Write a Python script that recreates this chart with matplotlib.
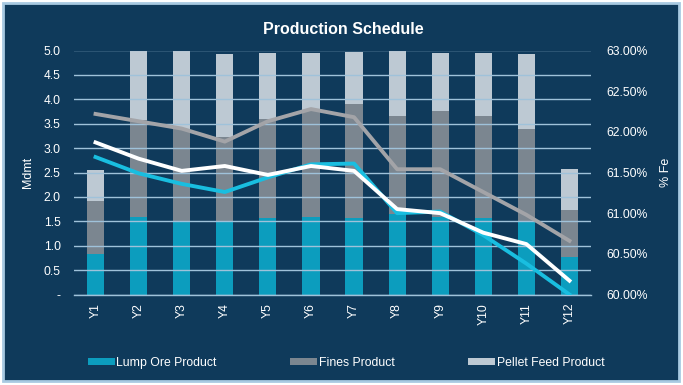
import matplotlib
matplotlib.use("Agg")
import matplotlib.pyplot as plt
from matplotlib.patches import Rectangle, Patch
from matplotlib.ticker import FuncFormatter, MultipleLocator
import numpy as np

plt.rcParams['font.family'] = ['Liberation Sans', 'DejaVu Sans']

years = ["Y1", "Y2", "Y3", "Y4", "Y5", "Y6", "Y7", "Y8", "Y9", "Y10", "Y11", "Y12"]
lump = [0.82, 1.58, 1.50, 1.48, 1.56, 1.59, 1.56, 1.65, 1.59, 1.56, 1.49, 0.76]
fines = [1.09, 1.99, 1.90, 1.75, 2.04, 2.18, 2.34, 2.01, 2.16, 2.10, 1.91, 0.97]
pellet = [0.65, 1.43, 1.60, 1.70, 1.35, 1.18, 1.07, 1.33, 1.20, 1.29, 1.53, 0.85]

fe_fines = [62.22, 62.13, 62.04, 61.88, 62.13, 62.28, 62.18, 61.54, 61.54, 61.26, 60.98, 60.66]
fe_total = [61.87, 61.67, 61.52, 61.58, 61.47, 61.58, 61.52, 61.05, 61.00, 60.76, 60.62, 60.17]
fe_lump = [61.69, 61.49, 61.36, 61.26, 61.44, 61.60, 61.61, 61.00, 61.02, 60.73, 60.38, 60.00]

BG = "#0F3A5B"
C_LUMP = "#0C9DBE"
C_FINES = "#7B8690"
C_PELLET = "#BDC9D3"
GRID = "#9FC2DA"

W, H = 683, 385
fig = plt.figure(figsize=(W / 100, H / 100), dpi=100)
fig.patch.set_facecolor("white")
fig.patches.append(Rectangle((3 / W, 4 / H), 676 / W, 378 / H, transform=fig.transFigure,
                             facecolor=BG, edgecolor="#A8CAE2", linewidth=2, zorder=-10))

ax = fig.add_axes([74 / W, 1 - 294.5 / H, 517 / W, 244 / H])
ax.set_facecolor("none")
x = np.arange(len(years))
bw = 0.40
lump_a = np.array(lump)
fines_a = np.array(fines)
pellet_a = np.array(pellet)
ax.bar(x, lump_a, bw, color=C_LUMP, zorder=1)
ax.bar(x, fines_a, bw, bottom=lump_a, color=C_FINES, zorder=1)
ax.bar(x, pellet_a, bw, bottom=lump_a + fines_a, color=C_PELLET, zorder=1)

ax.set_ylim(0, 5.0)
ax.set_xlim(-0.5, len(years) - 0.5)
ax.yaxis.set_major_locator(MultipleLocator(0.5))
ax.yaxis.set_major_formatter(FuncFormatter(lambda v, p: "-" if abs(v) < 1e-9 else f"{v:.1f}"))
ax.set_axisbelow(False)
ax.grid(axis="y", color=GRID, linewidth=1.0, zorder=2.5)
ax.grid(axis="x", visible=False)
for s in ["top", "right", "left"]:
    ax.spines[s].set_visible(False)
ax.spines["bottom"].set_color(GRID)
ax.spines["bottom"].set_linewidth(1.0)
ax.tick_params(axis="both", length=0, colors="white", labelsize=8.7)
ax.tick_params(axis="y", pad=9.5)
ax.set_xticks(x)
ax.set_xticklabels(years, rotation=90)
ax.tick_params(axis="x", pad=6)
ax.set_ylabel("Mdmt", color="white", fontsize=9, labelpad=7)

ax2 = ax.twinx()
ax2.set_facecolor("none")
ax2.plot(x, fe_fines, color="#A3A4A8", linewidth=2.8, zorder=3)
ax2.plot(x, fe_lump, color="#19BEE0", linewidth=2.8, zorder=3)
ax2.plot(x, fe_total, color="white", linewidth=2.8, zorder=4)
ax2.set_ylim(60.0, 63.0)
ax2.yaxis.set_major_locator(MultipleLocator(0.5))
ax2.yaxis.set_major_formatter(FuncFormatter(lambda v, p: f"{v:.2f}%"))
for s in ax2.spines.values():
    s.set_visible(False)
ax2.tick_params(axis="y", length=0, colors="white", labelsize=8.7, pad=11)
ax2.set_ylabel("% Fe", color="white", fontsize=9, rotation=90, labelpad=9)

fig.text(343 / W, 1 - 29 / H, "Production Schedule", color="white", fontsize=11.5,
         fontweight="bold", ha="center", va="center")

handles = [Patch(facecolor=C_LUMP), Patch(facecolor=C_FINES), Patch(facecolor=C_PELLET)]
labels = ["Lump Ore Product", "Fines Product", "Pellet Feed Product"]
leg = fig.legend(handles, labels, loc="center", bbox_to_anchor=(346 / W, 1 - 363 / H),
                 ncol=3, frameon=False, fontsize=8.8, labelcolor="white",
                 handlelength=2.2, handleheight=0.45, handletextpad=0.15, columnspacing=6.0)

fig.savefig("out.png", dpi=100, facecolor=fig.get_facecolor())
